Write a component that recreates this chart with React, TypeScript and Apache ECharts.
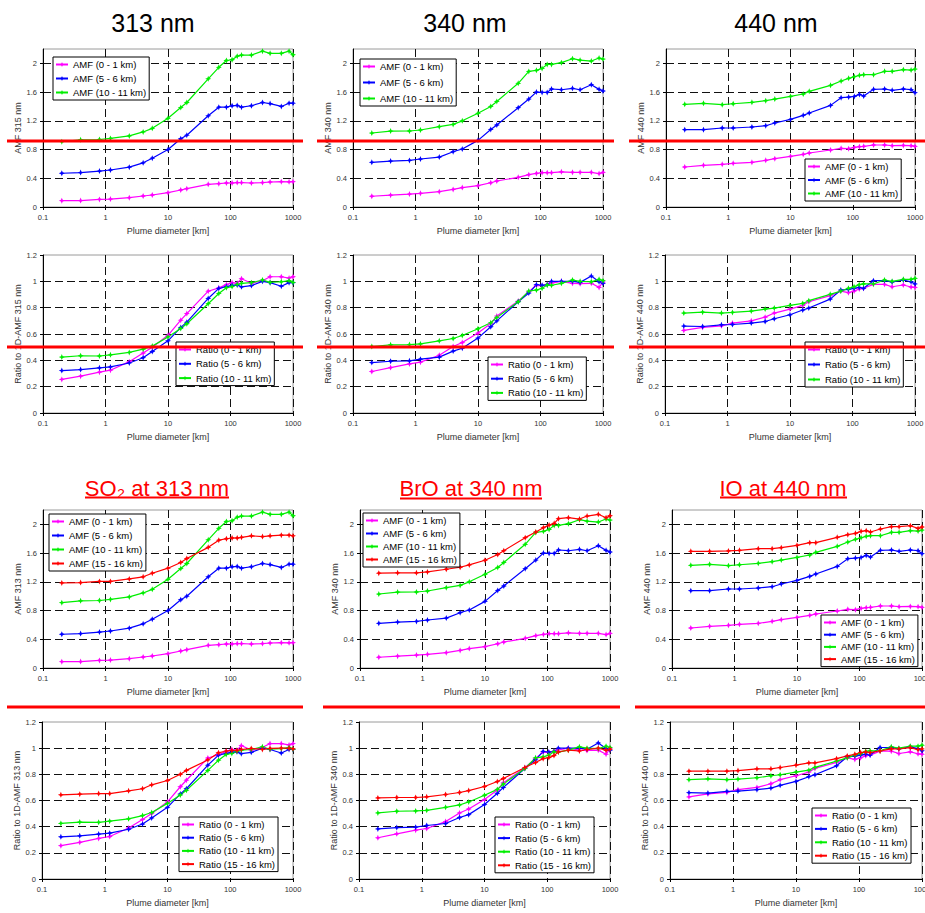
import React, { useEffect, useRef } from 'react';
import * as echarts from 'echarts';

// Plume diameters [km]
const X = [0.2, 0.4, 0.8, 1.2, 2.4, 4, 5.6, 10, 16, 20, 44, 65, 86, 106, 128, 150, 216, 325, 430, 650, 865, 1000];

const AMF_NAMES = ['AMF (0 - 1 km)', 'AMF (5 - 6 km)', 'AMF (10 - 11 km)', 'AMF (15 - 16 km)'];
const RATIO_NAMES = ['Ratio (0 - 1 km)', 'Ratio (5 - 6 km)', 'Ratio (10 - 11 km)', 'Ratio (15 - 16 km)'];
const COLORS = ['#ff00ff', '#0000ff', '#00ee00', '#ff0000'];

const AMF313_0_1 = [0.088, 0.09, 0.105, 0.11, 0.13, 0.153, 0.167, 0.2, 0.237, 0.255, 0.316, 0.325, 0.334, 0.334, 0.34, 0.34, 0.334, 0.34, 0.348, 0.353, 0.35, 0.353];
const AMF313_5_6 = [0.47, 0.48, 0.5, 0.515, 0.555, 0.615, 0.68, 0.8, 0.95, 1.0, 1.27, 1.39, 1.39, 1.41, 1.415, 1.39, 1.41, 1.455, 1.44, 1.4, 1.445, 1.445];
const AMF313_10_11 = [0.91, 0.935, 0.94, 0.955, 0.99, 1.045, 1.095, 1.235, 1.385, 1.455, 1.785, 1.945, 2.04, 2.05, 2.1, 2.115, 2.115, 2.17, 2.14, 2.14, 2.17, 2.12];
const AMF313_15_16 = [1.185, 1.19, 1.205, 1.205, 1.24, 1.27, 1.32, 1.39, 1.47, 1.525, 1.68, 1.78, 1.8, 1.81, 1.81, 1.82, 1.84, 1.83, 1.84, 1.85, 1.85, 1.84];

const AMF340_0_1 = [0.15, 0.165, 0.18, 0.19, 0.213, 0.245, 0.27, 0.297, 0.338, 0.362, 0.413, 0.45, 0.468, 0.478, 0.478, 0.478, 0.49, 0.483, 0.483, 0.483, 0.465, 0.483];
const AMF340_5_6 = [0.622, 0.64, 0.648, 0.668, 0.695, 0.77, 0.807, 0.928, 1.08, 1.142, 1.383, 1.503, 1.6, 1.596, 1.596, 1.643, 1.633, 1.652, 1.633, 1.703, 1.638, 1.615];
const AMF340_10_11 = [1.03, 1.057, 1.058, 1.072, 1.118, 1.15, 1.2, 1.305, 1.4, 1.47, 1.722, 1.888, 1.903, 1.93, 1.985, 1.985, 2.01, 2.065, 2.045, 2.032, 2.074, 2.06];
const AMF340_15_16 = [1.32, 1.325, 1.325, 1.338, 1.375, 1.403, 1.435, 1.5, 1.58, 1.634, 1.815, 1.894, 1.954, 1.99, 2.014, 2.079, 2.093, 2.074, 2.116, 2.14, 2.093, 2.12];

const AMF440_0_1 = [0.557, 0.58, 0.594, 0.608, 0.622, 0.65, 0.673, 0.705, 0.733, 0.752, 0.794, 0.817, 0.812, 0.83, 0.84, 0.845, 0.863, 0.863, 0.854, 0.858, 0.854, 0.845];
const AMF440_5_6 = [1.077, 1.077, 1.1, 1.1, 1.114, 1.132, 1.17, 1.22, 1.276, 1.309, 1.415, 1.522, 1.531, 1.54, 1.568, 1.545, 1.638, 1.643, 1.624, 1.643, 1.633, 1.592];
const AMF440_10_11 = [1.429, 1.443, 1.425, 1.438, 1.457, 1.48, 1.503, 1.54, 1.573, 1.61, 1.694, 1.754, 1.791, 1.814, 1.833, 1.842, 1.842, 1.889, 1.889, 1.912, 1.907, 1.921];
const AMF440_15_16 = [1.625, 1.625, 1.63, 1.639, 1.662, 1.662, 1.676, 1.708, 1.745, 1.745, 1.819, 1.856, 1.875, 1.903, 1.912, 1.894, 1.935, 1.968, 1.968, 1.981, 1.944, 1.963];

const RAT313_0_1 = [0.255, 0.28, 0.31, 0.325, 0.39, 0.455, 0.5, 0.59, 0.705, 0.755, 0.925, 0.95, 0.975, 0.99, 0.985, 1.02, 0.985, 1.005, 1.035, 1.035, 1.025, 1.035];
const RAT313_5_6 = [0.322, 0.33, 0.343, 0.35, 0.38, 0.42, 0.467, 0.548, 0.65, 0.69, 0.87, 0.947, 0.96, 0.97, 0.972, 0.958, 0.968, 1.0, 0.99, 0.963, 0.99, 0.99];
const RAT313_10_11 = [0.425, 0.435, 0.433, 0.442, 0.46, 0.485, 0.508, 0.578, 0.642, 0.678, 0.83, 0.908, 0.952, 0.96, 0.977, 0.985, 0.99, 1.01, 0.992, 0.997, 1.005, 0.992];
const RAT313_15_16 = [0.643, 0.648, 0.653, 0.653, 0.674, 0.69, 0.72, 0.753, 0.8, 0.83, 0.91, 0.965, 0.978, 0.983, 0.983, 0.99, 0.998, 0.99, 0.998, 1.0, 1.0, 0.995];

const RAT340_0_1 = [0.315, 0.345, 0.373, 0.386, 0.439, 0.505, 0.535, 0.607, 0.68, 0.736, 0.85, 0.921, 0.97, 0.967, 0.977, 0.987, 1.0, 0.985, 0.982, 0.985, 0.954, 0.995];
const RAT340_5_6 = [0.383, 0.393, 0.396, 0.409, 0.424, 0.47, 0.492, 0.569, 0.655, 0.7, 0.845, 0.911, 0.975, 0.97, 0.975, 1.0, 1.0, 1.0, 0.992, 1.04, 0.997, 0.985];
const RAT340_10_11 = [0.505, 0.518, 0.52, 0.525, 0.548, 0.566, 0.589, 0.64, 0.685, 0.726, 0.845, 0.926, 0.934, 0.947, 0.972, 0.97, 0.985, 1.01, 1.0, 0.997, 1.015, 1.005];
const RAT340_15_16 = [0.62, 0.623, 0.623, 0.628, 0.646, 0.661, 0.676, 0.707, 0.745, 0.768, 0.852, 0.89, 0.92, 0.928, 0.943, 0.971, 0.984, 0.979, 0.989, 1.0, 0.984, 0.992];

const RAT440_0_1 = [0.627, 0.65, 0.662, 0.683, 0.7, 0.728, 0.759, 0.789, 0.817, 0.845, 0.891, 0.926, 0.914, 0.926, 0.942, 0.947, 0.977, 0.977, 0.959, 0.972, 0.957, 0.954];
const RAT440_5_6 = [0.66, 0.657, 0.67, 0.672, 0.683, 0.695, 0.716, 0.746, 0.782, 0.797, 0.865, 0.934, 0.939, 0.947, 0.954, 0.947, 1.005, 1.005, 0.995, 1.01, 0.997, 0.98];
const RAT440_10_11 = [0.759, 0.766, 0.759, 0.764, 0.774, 0.789, 0.797, 0.817, 0.832, 0.853, 0.901, 0.926, 0.947, 0.959, 0.975, 0.98, 0.98, 1.01, 1.0, 1.015, 1.015, 1.023];
const RAT440_15_16 = [0.824, 0.824, 0.824, 0.829, 0.842, 0.842, 0.852, 0.87, 0.887, 0.887, 0.92, 0.941, 0.953, 0.966, 0.971, 0.966, 0.979, 0.994, 0.994, 1.004, 0.989, 0.994];

const AMF313 = [AMF313_0_1, AMF313_5_6, AMF313_10_11, AMF313_15_16];
const AMF340 = [AMF340_0_1, AMF340_5_6, AMF340_10_11, AMF340_15_16];
const AMF440 = [AMF440_0_1, AMF440_5_6, AMF440_10_11, AMF440_15_16];
const RAT313 = [RAT313_0_1, RAT313_5_6, RAT313_10_11, RAT313_15_16];
const RAT340 = [RAT340_0_1, RAT340_5_6, RAT340_10_11, RAT340_15_16];
const RAT440 = [RAT440_0_1, RAT440_5_6, RAT440_10_11, RAT440_15_16];

const TOP_TITLES = ['313 nm', '340 nm', '440 nm'];
const BOTTOM_TITLES = ['SO₂ at 313 nm', 'BrO at 340 nm', 'IO at 440 nm'];
const X_NAME = 'Plume diameter [km]';

const FONT = '"Liberation Sans", Arial, Helvetica, sans-serif';
const STAR = 'path://M0,-10 L3,-3 L10,0 L3,3 L0,10 L-3,3 L-10,0 L-3,-3 Z';

// layout of the 12 panels
const PANELS = [
  { grid: { left: 43, top: 49, width: 250, height: 158 }, data: AMF313, n: 3, ratio: false, yName: 'AMF 315 nm', leg: { left: 53, top: 57, gap: 3 } },
  { grid: { left: 353, top: 49, width: 250, height: 158 }, data: AMF340, n: 3, ratio: false, yName: 'AMF 340 nm', leg: { left: 360, top: 59, gap: 5 } },
  { grid: { left: 666, top: 49, width: 249, height: 158 }, data: AMF440, n: 3, ratio: false, yName: 'AMF 440 nm', leg: { left: 805, top: 159, gap: 2.5 } },
  { grid: { left: 43, top: 255, width: 250, height: 158 }, data: RAT313, n: 3, ratio: true, yName: 'Ratio to 1D-AMF 315 nm', leg: { left: 176, top: 342, gap: 3.3 } },
  { grid: { left: 353, top: 255, width: 250, height: 158 }, data: RAT340, n: 3, ratio: true, yName: 'Ratio to 1D-AMF 340 nm', leg: { left: 488, top: 357, gap: 3.2 } },
  { grid: { left: 665, top: 255, width: 250, height: 158 }, data: RAT440, n: 3, ratio: true, yName: 'Ratio to 1D-AMF 440 nm', leg: { left: 805, top: 342, gap: 4 } },
  { grid: { left: 43, top: 510, width: 250, height: 158 }, data: AMF313, n: 4, ratio: false, yName: 'AMF 313 nm', leg: { left: 49, top: 514, gap: 3 } },
  { grid: { left: 360, top: 510, width: 250, height: 158 }, data: AMF340, n: 4, ratio: false, yName: 'AMF 340 nm', leg: { left: 363, top: 513, gap: 2 } },
  { grid: { left: 672, top: 510, width: 250, height: 158 }, data: AMF440, n: 4, ratio: false, yName: 'AMF 440 nm', leg: { left: 821, top: 615, gap: 1.2 } },
  { grid: { left: 42, top: 722, width: 251, height: 157 }, data: RAT313, n: 4, ratio: true, yName: 'Ratio to 1D-AMF 313 nm', leg: { left: 179, top: 817, gap: 2.2 } },
  { grid: { left: 359, top: 722, width: 251, height: 157 }, data: RAT340, n: 4, ratio: true, yName: 'Ratio to 1D-AMF 340 nm', leg: { left: 495, top: 817, gap: 2.6 } },
  { grid: { left: 670, top: 722, width: 252, height: 157 }, data: RAT440, n: 4, ratio: true, yName: 'Ratio to 1D-AMF 440 nm', leg: { left: 812, top: 808, gap: 2.4 } },
];

function fmtNum(v: number) {
  return String(parseFloat(Number(v).toPrecision(4)));
}

function buildOption() {
  const grid: any[] = [];
  const xAxis: any[] = [];
  const yAxis: any[] = [];
  const series: any[] = [];
  const legend: any[] = [];
  const dash = { type: [8, 4], color: '#111', width: 1 };

  PANELS.forEach((p, gi) => {
    grid.push({
      ...p.grid, show: true, borderColor: '#9a9a9a', borderWidth: 1, backgroundColor: 'transparent',
      containLabel: false, outerBoundsMode: 'none',
    });
    xAxis.push({
      type: 'log', logBase: 10, min: 0.1, max: 1000, gridIndex: gi,
      name: X_NAME, nameLocation: 'middle', nameGap: 19,
      nameTextStyle: { fontFamily: FONT, fontSize: 9, color: '#333' },
      axisLine: { show: true, lineStyle: { color: '#000', width: 1 } },
      axisTick: { show: true, length: 3, lineStyle: { color: '#000' } },
      axisLabel: { fontFamily: FONT, fontSize: 7.5, color: '#333', margin: 6, showMinLabel: true, showMaxLabel: true, hideOverlap: false, formatter: (v: number) => fmtNum(v) },
      splitLine: { show: true, lineStyle: dash },
      minorTick: { show: false }, minorSplitLine: { show: false },
    });
    yAxis.push({
      type: 'value', gridIndex: gi, min: 0,
      max: p.ratio ? 1.2 : 2.2, interval: p.ratio ? 0.2 : 0.4,
      name: p.yName, nameLocation: 'middle', nameGap: 16, nameRotate: 90,
      nameTextStyle: { fontFamily: FONT, fontSize: 9, color: '#333' },
      axisLine: { show: true, lineStyle: { color: '#000', width: 1 } },
      axisTick: { show: true, length: 3, lineStyle: { color: '#000' } },
      axisLabel: { fontFamily: FONT, fontSize: 7.5, color: '#333', margin: 6, showMaxLabel: p.ratio, formatter: (v: number) => fmtNum(v) },
      splitLine: { show: true, lineStyle: dash, showMaxLine: false, showMinLine: false },
    });
    const names = p.ratio ? RATIO_NAMES : AMF_NAMES;
    for (let k = 0; k < p.n; k++) {
      series.push({
        type: 'line', name: names[k], xAxisIndex: gi, yAxisIndex: gi,
        data: X.map((x, i) => [x, p.data[k][i]]),
        symbol: STAR, symbolSize: 6, showSymbol: true,
        lineStyle: { color: COLORS[k], width: 1.2 },
        itemStyle: { color: COLORS[k] },
        emphasis: { disabled: true },
        z: 3,
      });
    }
    legend.push({
      left: p.leg.left, top: p.leg.top, orient: 'vertical',
      data: names.slice(0, p.n),
      itemWidth: 12, itemHeight: 6, itemGap: p.leg.gap,
      padding: [2, 3, 2, 2],
      backgroundColor: '#fff', borderColor: '#000', borderWidth: 1, borderRadius: 0,
      selectedMode: false,
      textStyle: { fontFamily: FONT, fontSize: 9.5, color: '#000', lineHeight: 11 },
      z: 6,
    });
  });

  const red = '#ff0000';
  const redLine = (x1: number, x2: number, y: number, w = 3) => ({
    type: 'line', z: 100, shape: { x1, y1: y, x2, y2: y }, style: { stroke: red, lineWidth: w },
  });
  const graphic: any[] = [
    // top titles
    { type: 'text', x: 153, y: 23, z: 100, style: { text: TOP_TITLES[0], font: `25px ${FONT}`, fill: '#000', align: 'center', verticalAlign: 'middle' } },
    { type: 'text', x: 465, y: 23, z: 100, style: { text: TOP_TITLES[1], font: `25px ${FONT}`, fill: '#000', align: 'center', verticalAlign: 'middle' } },
    { type: 'text', x: 776, y: 23, z: 100, style: { text: TOP_TITLES[2], font: `25px ${FONT}`, fill: '#000', align: 'center', verticalAlign: 'middle' } },
    // bottom titles (red, underlined)
    { type: 'text', x: 157, y: 488, z: 100, style: { text: BOTTOM_TITLES[0], font: `22px ${FONT}`, fill: red, align: 'center', verticalAlign: 'middle' } },
    { type: 'text', x: 471, y: 488, z: 100, style: { text: BOTTOM_TITLES[1], font: `22px ${FONT}`, fill: red, align: 'center', verticalAlign: 'middle' } },
    { type: 'text', x: 783, y: 488, z: 100, style: { text: BOTTOM_TITLES[2], font: `22px ${FONT}`, fill: red, align: 'center', verticalAlign: 'middle' } },
    redLine(85, 229, 497.5, 2),
    redLine(400, 542, 498.5, 2),
    redLine(720, 847, 497.5, 2),
    // separator lines
    redLine(7, 303, 141), redLine(317, 614, 141), redLine(629, 925, 141),
    redLine(7, 303, 347), redLine(317, 614, 347), redLine(629, 925, 347),
    redLine(7, 303, 707), redLine(323, 620, 707), redLine(635, 925, 707),
  ];

  return {
    animation: false,
    backgroundColor: '#fff',
    grid, xAxis, yAxis, series, legend, graphic,
    tooltip: { show: false },
  };
}

export default function App() {
  const ref = useRef<HTMLDivElement>(null);
  useEffect(() => {
    if (!ref.current) return;
    const chart = echarts.init(ref.current, null, { renderer: 'svg' });
    chart.setOption(buildOption() as any);
    return () => chart.dispose();
  }, []);
  return (
    <div
      ref={ref}
      style={{ position: 'absolute', left: 0, top: 0, width: 925, height: 913, background: '#fff' }}
    />
  );
}
